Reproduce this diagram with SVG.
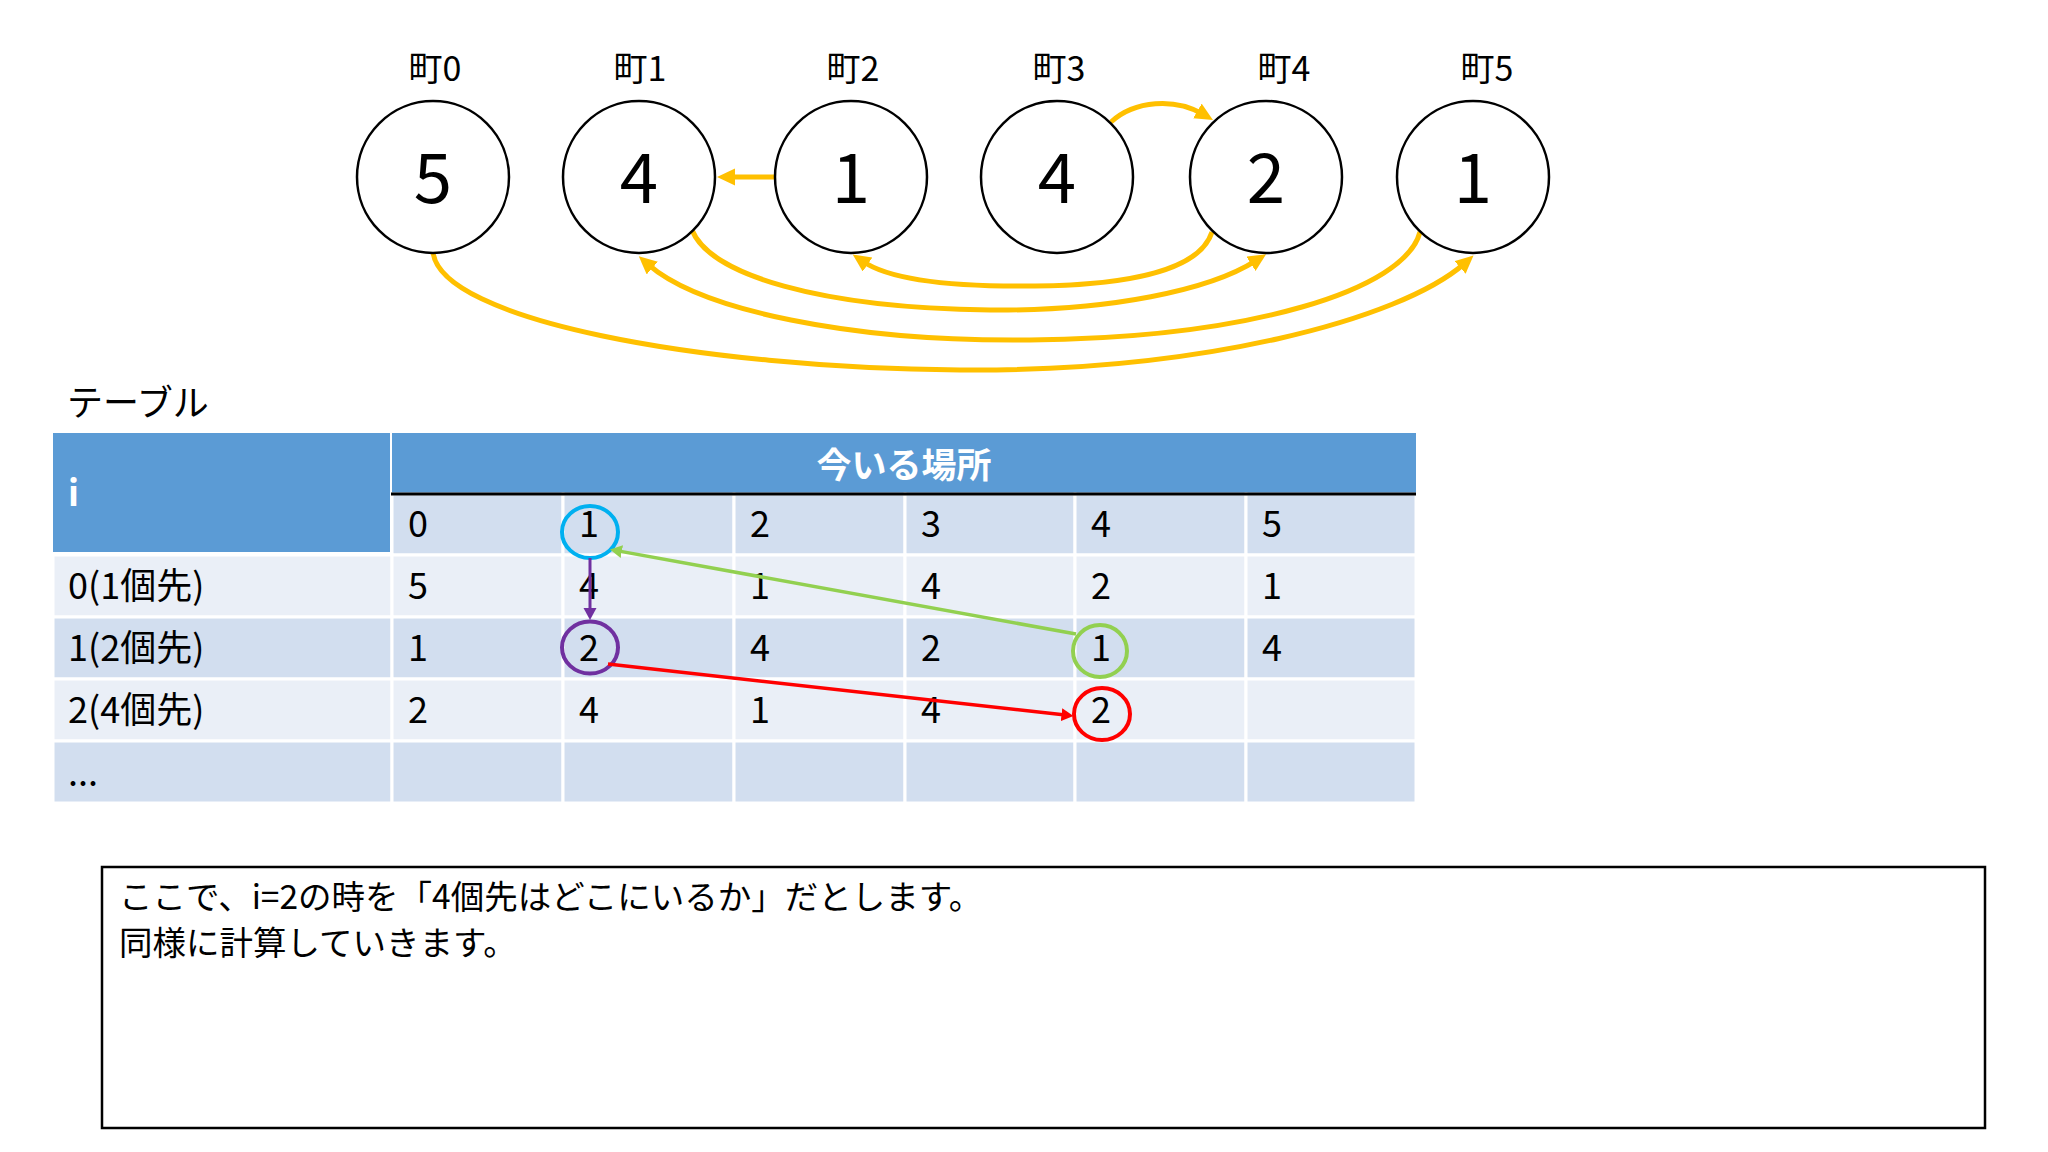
<svg xmlns="http://www.w3.org/2000/svg" width="2048" height="1152" viewBox="0 0 2048 1152">
<style>
text{font-family:"Noto Sans CJK JP","Noto Sans",sans-serif;fill:#000}
.lbl{font-size:34px;text-anchor:middle}
.num{font-size:69px;text-anchor:middle}
.node ellipse{fill:#fff;stroke:#000;stroke-width:2.5}
.cell{font-size:36px}
.hd{fill:#5B9BD5}
.dk{fill:#D2DEEF;stroke:#fff;stroke-width:3}
.lt{fill:#EAEFF7;stroke:#fff;stroke-width:3}
.orange{fill:none;stroke:#FFC000;stroke-width:5}
.box{font-size:33.5px}
</style>
<defs>
<marker id="ao" markerUnits="userSpaceOnUse" markerWidth="20" markerHeight="20" refX="6" refY="8.5" orient="auto"><path d="M0,0 L18,8.5 L0,17 z" fill="#FFC000"/></marker>
<marker id="ap" markerUnits="userSpaceOnUse" markerWidth="14" markerHeight="14" refX="4" refY="6.5" orient="auto"><path d="M0,0 L12,6.5 L0,13 z" fill="#7030A0"/></marker>
<marker id="ag" markerUnits="userSpaceOnUse" markerWidth="14" markerHeight="14" refX="4" refY="6.5" orient="auto"><path d="M0,0 L12,6.5 L0,13 z" fill="#92D050"/></marker>
<marker id="ar" markerUnits="userSpaceOnUse" markerWidth="14" markerHeight="14" refX="4" refY="6.5" orient="auto"><path d="M0,0 L12,6.5 L0,13 z" fill="#FF0000"/></marker>
</defs>
<rect width="2048" height="1152" fill="#fff"/>

<g id="connectors">
<path class="orange" d="M775,177 L729,177" marker-end="url(#ao)"/>
<path class="orange" d="M1111,122 C1135,100 1175,98 1202.6,114" marker-end="url(#ao)"/>
<path class="orange" d="M1212,232 C1200,270 1130,285 1035,286 C950,287 890,280 862.6,261.2" marker-end="url(#ao)"/>
<path class="orange" d="M692,230 C710,275 820,308 990,310 C1110,311 1210,290 1256,260.6" marker-end="url(#ao)"/>
<path class="orange" d="M1420,232 C1405,290 1250,338 1030,340 C850,342 700,310 647.8,264.1" marker-end="url(#ao)"/>
<path class="orange" d="M433,252 C440,320 700,368 960,370 C1200,372 1400,320 1464.5,263.5" marker-end="url(#ao)"/>
</g>

<g id="node0" class="node"><text class="lbl" x="435" y="81">町0</text><ellipse cx="433" cy="177" rx="76" ry="76"/><text class="num" x="433" y="203">5</text></g>
<g id="node1" class="node"><text class="lbl" x="640" y="81">町1</text><ellipse cx="639" cy="177" rx="76" ry="76"/><text class="num" x="639" y="203">4</text></g>
<g id="node2" class="node"><text class="lbl" x="853" y="81">町2</text><ellipse cx="851" cy="177" rx="76" ry="76"/><text class="num" x="851" y="203">1</text></g>
<g id="node3" class="node"><text class="lbl" x="1059" y="81">町3</text><ellipse cx="1057" cy="177" rx="76" ry="76"/><text class="num" x="1057" y="203">4</text></g>
<g id="node4" class="node"><text class="lbl" x="1284" y="81">町4</text><ellipse cx="1266" cy="177" rx="76" ry="76"/><text class="num" x="1266" y="203">2</text></g>
<g id="node5" class="node"><text class="lbl" x="1487" y="81">町5</text><ellipse cx="1473" cy="177" rx="76" ry="76"/><text class="num" x="1473" y="203">1</text></g>

<g id="table">
<text x="67" y="416" style="font-size:36px">テーブル</text>
<rect class="hd" x="53" y="433" width="337" height="119"/>
<rect class="hd" x="392" y="433" width="1024" height="61"/>
<g>
<rect class="dk" x="392" y="494" width="171" height="61"/><rect class="dk" x="563" y="494" width="171" height="61"/><rect class="dk" x="734" y="494" width="171" height="61"/><rect class="dk" x="905" y="494" width="170" height="61"/><rect class="dk" x="1075" y="494" width="171" height="61"/><rect class="dk" x="1246" y="494" width="170" height="61"/>
</g>
<g>
<rect class="lt" x="53" y="555" width="339" height="62"/><rect class="lt" x="392" y="555" width="171" height="62"/><rect class="lt" x="563" y="555" width="171" height="62"/><rect class="lt" x="734" y="555" width="171" height="62"/><rect class="lt" x="905" y="555" width="170" height="62"/><rect class="lt" x="1075" y="555" width="171" height="62"/><rect class="lt" x="1246" y="555" width="170" height="62"/>
</g>
<g>
<rect class="dk" x="53" y="617" width="339" height="62"/><rect class="dk" x="392" y="617" width="171" height="62"/><rect class="dk" x="563" y="617" width="171" height="62"/><rect class="dk" x="734" y="617" width="171" height="62"/><rect class="dk" x="905" y="617" width="170" height="62"/><rect class="dk" x="1075" y="617" width="171" height="62"/><rect class="dk" x="1246" y="617" width="170" height="62"/>
</g>
<g>
<rect class="lt" x="53" y="679" width="339" height="62"/><rect class="lt" x="392" y="679" width="171" height="62"/><rect class="lt" x="563" y="679" width="171" height="62"/><rect class="lt" x="734" y="679" width="171" height="62"/><rect class="lt" x="905" y="679" width="170" height="62"/><rect class="lt" x="1075" y="679" width="171" height="62"/><rect class="lt" x="1246" y="679" width="170" height="62"/>
</g>
<g>
<rect class="dk" x="53" y="741" width="339" height="62"/><rect class="dk" x="392" y="741" width="171" height="62"/><rect class="dk" x="563" y="741" width="171" height="62"/><rect class="dk" x="734" y="741" width="171" height="62"/><rect class="dk" x="905" y="741" width="170" height="62"/><rect class="dk" x="1075" y="741" width="171" height="62"/><rect class="dk" x="1246" y="741" width="170" height="62"/>
</g>
<line x1="391" y1="494" x2="1416" y2="494" stroke="#000" stroke-width="3"/>
<text class="cell" x="68" y="506" style="fill:#fff;font-weight:bold">i</text>
<text x="904" y="478" style="font-size:35px;font-weight:bold;fill:#fff;text-anchor:middle">今いる場所</text>
<g class="cell">
<text x="408" y="537">0</text><text x="579" y="537">1</text><text x="750" y="537">2</text><text x="921" y="537">3</text><text x="1091" y="537">4</text><text x="1262" y="537">5</text>
<text x="68" y="599">0(1個先)</text><text x="408" y="599">5</text><text x="579" y="599">4</text><text x="750" y="599">1</text><text x="921" y="599">4</text><text x="1091" y="599">2</text><text x="1262" y="599">1</text>
<text x="68" y="661">1(2個先)</text><text x="408" y="661">1</text><text x="579" y="661">2</text><text x="750" y="661">4</text><text x="921" y="661">2</text><text x="1091" y="661">1</text><text x="1262" y="661">4</text>
<text x="68" y="723">2(4個先)</text><text x="408" y="723">2</text><text x="579" y="723">4</text><text x="750" y="723">1</text><text x="921" y="723">4</text><text x="1091" y="723">2</text>
<text x="68" y="786">...</text>
</g>
</g>

<g id="highlights">
<ellipse id="c-blue" cx="590" cy="532" rx="28" ry="26" fill="none" stroke="#00B0F0" stroke-width="4"/>
<ellipse id="c-purple" cx="590" cy="647.5" rx="28" ry="26" fill="none" stroke="#7030A0" stroke-width="4"/>
<ellipse id="c-green" cx="1100" cy="651" rx="27" ry="26" fill="none" stroke="#92D050" stroke-width="4"/>
<ellipse id="c-red" cx="1102" cy="714" rx="28" ry="26" fill="none" stroke="#FF0000" stroke-width="4"/>
</g>
<g id="table-connectors">
<path d="M590,558 L590,612" stroke="#7030A0" stroke-width="3" fill="none" marker-end="url(#ap)"/>
<path d="M1076,634 L617.9,550.9" stroke="#92D050" stroke-width="3.5" fill="none" marker-end="url(#ag)"/>
<path d="M608,664 L1065.5,715.1" stroke="#FF0000" stroke-width="3.5" fill="none" marker-end="url(#ar)"/>
</g>

<g id="note">
<rect x="102" y="867" width="1883" height="261" fill="#fff" stroke="#000" stroke-width="2.5"/>
<text class="box" x="119" y="909">ここで、i=2の時を「4個先はどこにいるか」だとします。</text>
<text class="box" x="119" y="955">同様に計算していきます。</text>
</g>
</svg>
